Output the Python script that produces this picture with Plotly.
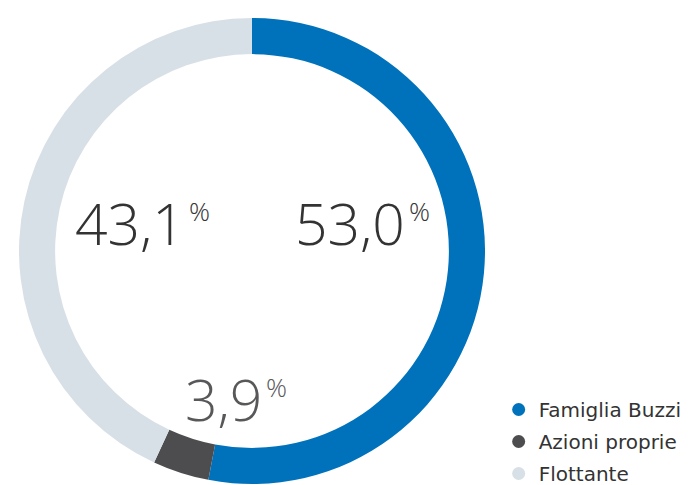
import plotly.graph_objects as go

labels = ["Famiglia Buzzi", "Azioni proprie", "Flottante"]
values = [53.0, 3.9, 43.1]
value_text = ["53,0", "3,9", "43,1"]
colors = ["#0072BC", "#4D4D4F", "#D8E0E7"]

W, H = 694, 485
cx, cy, R = 244, 243, 233

fig = go.Figure()
fig.add_trace(go.Pie(
    labels=labels, values=values, sort=False, direction="clockwise", rotation=0,
    hole=0.845, marker=dict(colors=colors, line=dict(width=0)),
    textinfo="none", hoverinfo="label+percent", showlegend=False,
    domain=dict(x=[(cx - R) / W, (cx + R) / W], y=[(H - cy - R) / H, (H - cy + R) / H]),
))
for i, (lab, col) in enumerate(zip(labels, colors)):
    fig.add_trace(go.Scatter(x=[None], y=[None], mode="markers", name=lab,
                             legendgroup=f"g{i}",
                             marker=dict(color=col, size=13, symbol="circle")))

# (number right edge, vertical centre, percent-sign left edge)
pos = {"53,0": (399, 215, 399), "3,9": (256, 391, 256), "43,1": (179, 215, 179)}
numcol = {"53,0": "#333333", "3,9": "#58585A", "43,1": "#333333"}
NFONT = "Open Sans"
for t in value_text:
    x, y, px = pos[t]
    fig.add_annotation(x=x / W, y=1 - y / H, xref="paper", yref="paper", text=t,
                       showarrow=False, xanchor="right", yanchor="middle",
                       font=dict(family=NFONT, size=57, color=numcol[t], weight=300))
    fig.add_annotation(x=px / W, y=1 - (y - 12) / H, xref="paper", yref="paper", text="%",
                       showarrow=False, xanchor="left", yanchor="middle",
                       font=dict(family=NFONT, size=26, color=numcol[t], weight=300))

fig.update_layout(
    width=W, height=H, margin=dict(l=0, r=0, t=0, b=0),
    paper_bgcolor="white", plot_bgcolor="white",
    xaxis=dict(visible=False), yaxis=dict(visible=False),
    legend=dict(x=0.707, y=0.0, xanchor="left", yanchor="bottom",
                font=dict(family="DejaVu Sans", size=20, color="#333333"),
                traceorder="grouped", tracegroupgap=3,
                itemwidth=30, bgcolor="rgba(0,0,0,0)"),
)
fig.write_html("out.html")
